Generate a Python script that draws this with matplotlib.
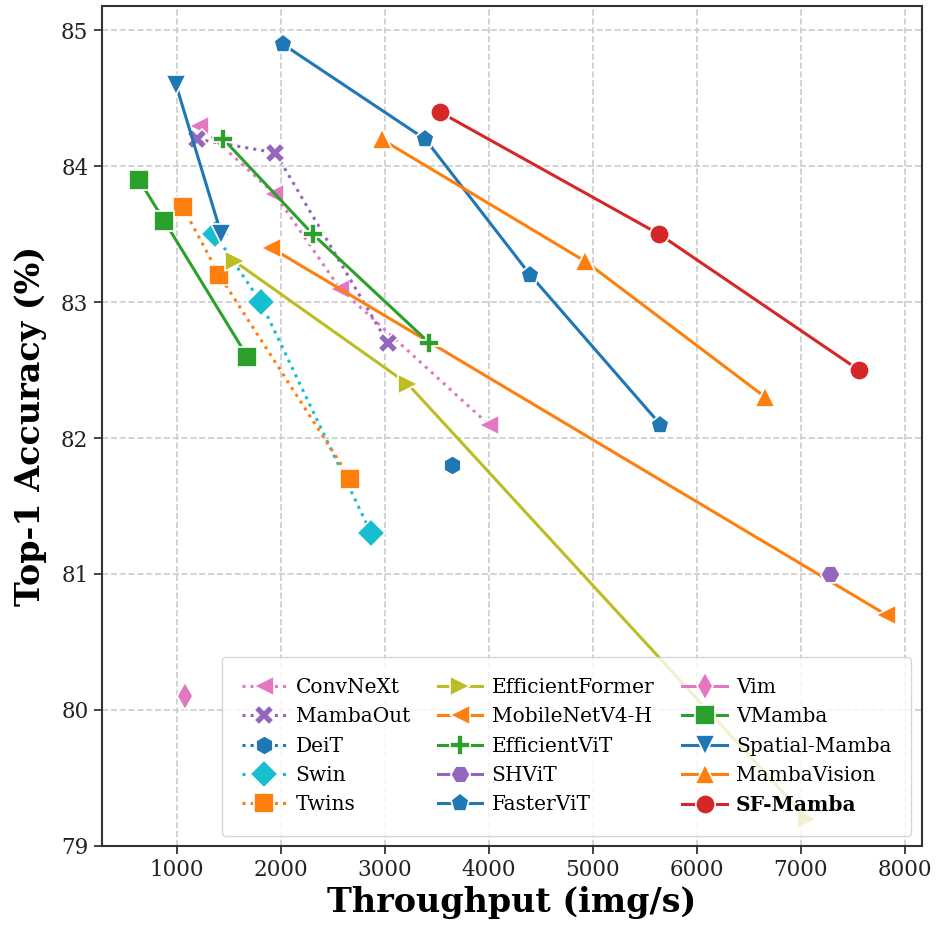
import matplotlib
matplotlib.use('Agg')
import matplotlib.pyplot as plt

# Throughput (img/s) and Top-1 accuracy (%) per model family
convnext_x = [1220, 1940, 2570, 4000]
convnext_y = [84.3, 83.8, 83.1, 82.1]
mambaout_x = [1200, 1950, 3030]
mambaout_y = [84.2, 84.1, 82.7]
deit_x = [3650]
deit_y = [81.8]
swin_x = [1370, 1810, 2870]
swin_y = [83.5, 83.0, 81.3]
twins_x = [1060, 1410, 2670]
twins_y = [83.7, 83.2, 81.7]
effformer_x = [1560, 3220, 7060]
effformer_y = [83.3, 82.4, 79.2]
mobilenet_x = [1910, 7820]
mobilenet_y = [83.4, 80.7]
effvit_x = [1450, 2310, 3430]
effvit_y = [84.2, 83.5, 82.7]
shvit_x = [7280]
shvit_y = [81.0]
fastervit_x = [2020, 3390, 4400, 5650]
fastervit_y = [84.9, 84.2, 83.2, 82.1]
vim_x = [1080]
vim_y = [80.1]
vmamba_x = [640, 880, 1680]
vmamba_y = [83.9, 83.6, 82.6]
spatial_x = [995, 1430]
spatial_y = [84.6, 83.5]
mambavision_x = [2970, 4930, 6660]
mambavision_y = [84.2, 83.3, 82.3]
sfmamba_x = [3530, 5640, 7560]
sfmamba_y = [84.4, 83.5, 82.5]

series = [
    ('ConvNeXt', convnext_x, convnext_y, '<', ':', '#e377c2'),
    ('MambaOut', mambaout_x, mambaout_y, 'X', ':', '#9467bd'),
    ('DeiT', deit_x, deit_y, 'h', ':', '#1f77b4'),
    ('Swin', swin_x, swin_y, 'D', ':', '#17becf'),
    ('Twins', twins_x, twins_y, 's', ':', '#ff7f0e'),
    ('EfficientFormer', effformer_x, effformer_y, '>', '-', '#bcbd22'),
    ('MobileNetV4-H', mobilenet_x, mobilenet_y, '<', '-', '#ff7f0e'),
    ('EfficientViT', effvit_x, effvit_y, 'P', '-', '#2ca02c'),
    ('SHViT', shvit_x, shvit_y, 'H', '-', '#9467bd'),
    ('FasterViT', fastervit_x, fastervit_y, 'p', '-', '#1f77b4'),
    ('Vim', vim_x, vim_y, 'd', '-', '#e377c2'),
    ('VMamba', vmamba_x, vmamba_y, 's', '-', '#2ca02c'),
    ('Spatial-Mamba', spatial_x, spatial_y, 'v', '-', '#1f77b4'),
    ('MambaVision', mambavision_x, mambavision_y, '^', '-', '#ff7f0e'),
    ('SF-Mamba', sfmamba_x, sfmamba_y, 'o', '-', '#d62728'),
]

plt.rcParams['font.family'] = 'DejaVu Serif'

fig = plt.figure(figsize=(9.37, 9.27), dpi=100)
ax = fig.add_axes([0.1085, 0.0877, 0.875, 0.9058])

for name, xs, ys, mk, ls, col in series:
    ax.plot(xs, ys, marker=mk, linestyle=ls, color=col, label=name,
            linewidth=2.2, markersize=14, markeredgecolor='white',
            markeredgewidth=1.2)

ax.set_xlim(280, 8160)
ax.set_ylim(79, 85.18)
ax.set_xticks([1000, 2000, 3000, 4000, 5000, 6000, 7000, 8000])
ax.set_yticks([79, 80, 81, 82, 83, 84, 85])
ax.tick_params(labelsize=15.5, length=6, width=1.2, colors='#222222')
ax.grid(True, linestyle='--', color='#cccccc', linewidth=1.2)
ax.set_axisbelow(True)
for sp in ax.spines.values():
    sp.set_color('#333333')
    sp.set_linewidth(1.5)

ax.set_xlabel('Throughput (img/s)', fontsize=24, fontweight='bold', labelpad=4)
ax.set_ylabel('Top-1 Accuracy (%)', fontsize=24, fontweight='bold', labelpad=10)

leg = ax.legend(loc='lower right', ncol=3, fontsize=14.5, framealpha=0.8,
                handlelength=2.2, handletextpad=0.45, columnspacing=1.4,
                borderpad=1.0, labelspacing=0.52)
for t in leg.get_texts():
    if t.get_text() == 'SF-Mamba':
        t.set_fontweight('bold')

fig.savefig('out.png', dpi=100)
